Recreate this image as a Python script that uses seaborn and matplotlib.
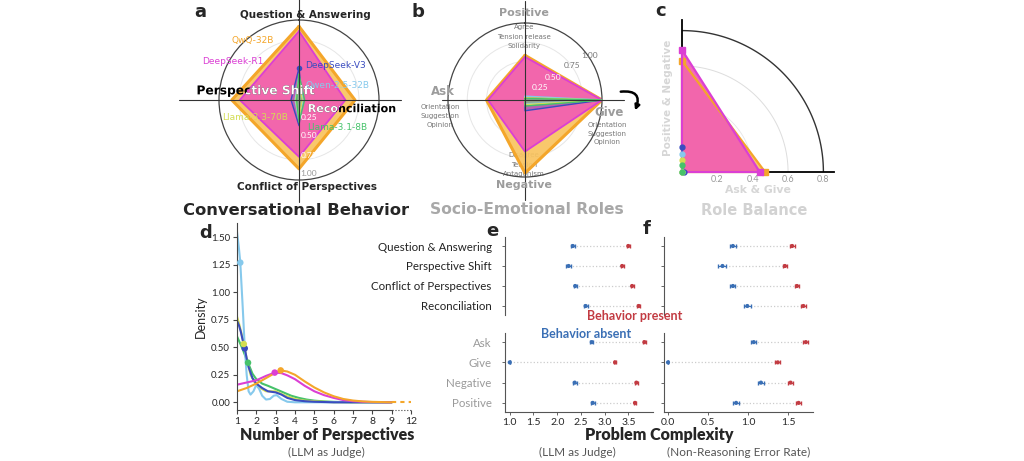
import numpy as np
import pandas as pd
import seaborn as sns
import matplotlib.pyplot as plt
from matplotlib.patches import FancyArrowPatch, PathPatch
from matplotlib.textpath import TextPath
from matplotlib.font_manager import FontProperties
from matplotlib.transforms import Affine2D

W, H = 1024, 461

models = ['QwQ-32B', 'DeepSeek-R1', 'DeepSeek-V3', 'Qwen-2.5-32B', 'Llama-3.3-70B', 'Llama-3.1-8B']
colors = {'QwQ-32B': '#F4A62A', 'DeepSeek-R1': '#DB3FD4', 'DeepSeek-V3': '#3A4CC0',
          'Qwen-2.5-32B': '#86C9EC', 'Llama-3.3-70B': '#D3DD52', 'Llama-3.1-8B': '#46C26A'}
fills = {'QwQ-32B': '#F9C460', 'DeepSeek-R1': '#F25EB2'}

# a: conversational behavior (QA, Perspective Shift, Conflict, Reconciliation)
behav_axes = ['Question & Answering', 'Perspective Shift', 'Conflict of Perspectives', 'Reconciliation']
behav = {'QwQ-32B': [0.92, 0.84, 0.86, 0.70],
         'DeepSeek-R1': [0.86, 0.74, 0.71, 0.58],
         'DeepSeek-V3': [0.40, 0.10, 0.32, 0.04],
         'Qwen-2.5-32B': [0.30, 0.05, 0.26, 0.05],
         'Llama-3.3-70B': [0.28, 0.04, 0.22, 0.04],
         'Llama-3.1-8B': [0.32, 0.03, 0.28, 0.07]}

# b: socio-emotional roles (Positive, Ask, Negative, Give)
role_axes = ['Positive', 'Ask', 'Negative', 'Give']
roles = {'QwQ-32B': [0.58, 0.50, 0.95, 1.0],
         'DeepSeek-R1': [0.56, 0.48, 0.67, 1.0],
         'DeepSeek-V3': [0.03, 0.0, 0.14, 1.0],
         'Qwen-2.5-32B': [0.05, 0.0, 0.05, 1.0],
         'Llama-3.3-70B': [0.03, 0.0, 0.06, 1.0],
         'Llama-3.1-8B': [0.02, 0.0, 0.08, 1.0]}

# c: role balance
bal_askgive = [0.47, 0.44, 0.01, 0.0, 0.0, 0.0]
bal_posneg = [0.63, 0.69, 0.14, 0.10, 0.07, 0.04]

# d: density of number of perspectives
dens = {
    'Qwen-2.5-32B': ([1, 1.1, 1.17, 1.3, 1.4, 1.5, 1.6, 1.7, 1.85, 2.0, 2.15, 2.3, 2.5, 2.7, 2.9, 3.05, 3.3, 3.6, 4, 5, 6, 7, 8, 9],
                     [1.55, 1.4, 1.27, 0.85, 0.5, 0.25, 0.1, 0.07, 0.1, 0.16, 0.12, 0.06, 0.025, 0.03, 0.06, 0.065, 0.03, 0.005, 0, 0, 0, 0, 0, 0]),
    'DeepSeek-V3': ([1, 1.1, 1.2, 1.3, 1.4, 1.5, 1.6, 1.8, 2.0, 2.3, 2.6, 3.0, 3.3, 3.6, 4, 4.5, 5, 6, 7, 8, 9],
                    [0.74, 0.7, 0.64, 0.56, 0.49, 0.4, 0.32, 0.22, 0.17, 0.13, 0.1, 0.09, 0.07, 0.04, 0.02, 0.01, 0.005, 0, 0, 0, 0]),
    'Llama-3.3-70B': ([1, 1.1, 1.2, 1.35, 1.5, 1.7, 2.0, 2.5, 3.0, 3.5, 4, 4.5, 5, 6, 7, 8, 9],
                      [0.78, 0.72, 0.65, 0.53, 0.4, 0.25, 0.15, 0.1, 0.1, 0.06, 0.03, 0.015, 0.01, 0, 0, 0, 0]),
    'Llama-3.1-8B': ([1, 1.1, 1.3, 1.45, 1.57, 1.8, 2.0, 2.3, 2.6, 3.0, 3.4, 3.8, 4.2, 4.6, 5, 5.5, 6, 7, 8, 9],
                     [0.6, 0.56, 0.48, 0.41, 0.36, 0.26, 0.21, 0.17, 0.15, 0.12, 0.09, 0.06, 0.04, 0.025, 0.015, 0.008, 0.004, 0, 0, 0]),
    'DeepSeek-R1': ([1, 1.5, 2.0, 2.5, 2.95, 3.3, 3.6, 4.0, 4.5, 5.0, 5.5, 6, 6.5, 7, 7.5, 8, 9],
                    [0.16, 0.18, 0.2, 0.24, 0.27, 0.265, 0.245, 0.21, 0.15, 0.1, 0.065, 0.04, 0.02, 0.01, 0.005, 0.002, 0]),
    'QwQ-32B': ([1, 1.5, 2.0, 2.5, 3.0, 3.26, 3.6, 4.0, 4.5, 5.0, 5.5, 6, 6.5, 7, 7.5, 8, 9],
                [0.1, 0.13, 0.17, 0.22, 0.27, 0.29, 0.28, 0.25, 0.19, 0.135, 0.09, 0.055, 0.03, 0.016, 0.008, 0.004, 0]),
}
mean_x = [3.26, 2.95, 1.4, 1.17, 1.35, 1.57]
mean_y = [0.29, 0.27, 0.49, 1.27, 0.53, 0.36]
persp_ticks = [1, 2, 3, 4, 5, 6, 7, 8, 9, 10]
persp_labels = ['1', '2', '3', '4', '5', '6', '7', '8', '9', '12']

# e/f: problem complexity with behavior absent / present
rows_top = ['Question & Answering', 'Perspective Shift', 'Conflict of Perspectives', 'Reconciliation']
rows_bot = ['Ask', 'Give', 'Negative', 'Positive']
e_abs_top = [2.33, 2.24, 2.38, 2.60]
e_pre_top = [3.50, 3.37, 3.58, 3.72]
e_abs_bot = [2.73, 1.00, 2.37, 2.75]
e_pre_bot = [3.84, 3.22, 3.67, 3.64]
f_abs_top = [0.81, 0.68, 0.81, 0.99]
f_pre_top = [1.55, 1.46, 1.61, 1.69]
f_abs_bot = [1.07, 0.00, 1.16, 0.85]
f_pre_bot = [1.72, 1.37, 1.53, 1.63]
err_e_abs = [0.04, 0.05, 0.03, 0.04]
err_e_pre = [0.03, 0.03, 0.03, 0.03]
err_e_abs_b = [0.03, 0.0, 0.04, 0.04]
err_e_pre_b = [0.03, 0.03, 0.03, 0.03]
err_f_abs = [0.04, 0.05, 0.03, 0.04]
err_f_pre = [0.03, 0.03, 0.03, 0.03]
err_f_abs_b = [0.03, 0.0, 0.04, 0.04]
err_f_pre_b = [0.03, 0.03, 0.03, 0.03]

blue = '#3A6FB5'
red = '#C23B42'

sns.set_theme(style='white')
plt.rcParams['font.family'] = ['DejaVu Sans']


def box(x0, y0, x1, y1):
    return [x0 / W, 1 - y1 / H, (x1 - x0) / W, (y1 - y0) / H]


def P(x, y):
    return x / W, 1 - y / H


fig = plt.figure(figsize=(10.24, 4.61), dpi=100)


def path_text(ax, s, x, y, fs, color, z, clip=None):
    # label drawn as a path inside the radar axes, so it can be clipped to a filled polygon
    tp = TextPath((0, 0), s, size=fs, prop=FontProperties(family='DejaVu Sans', weight='bold'))
    ext = tp.get_extents()
    k = fig.dpi / 72
    tr = Affine2D().translate(-(ext.x0 + ext.width / 2), -(ext.y0 + ext.height / 2)).scale(k).translate(x, H - y)
    pp = PathPatch(tp, transform=tr, facecolor=color, edgecolor='none', lw=0, zorder=z)
    ax.add_artist(pp)
    if clip is None:
        pp.set_clip_on(False)
    else:
        pp.set_clip_on(True)
        pp.set_clip_path(clip)
    return pp


def radar(ax, data, cross):
    ang = np.arange(4) * np.pi / 2
    angc = np.append(ang, ang[0])
    ax.set_theta_offset(np.pi / 2)
    ax.set_ylim(0, 1)
    ax.set_xticks([])
    ax.set_yticks([0.25, 0.5, 0.75])
    ax.set_yticklabels([])
    ax.yaxis.grid(True, color='#E6E6E6', lw=0.7)
    ax.set_axisbelow(True)
    ax.spines['polar'].set_color('#444')
    ax.spines['polar'].set_linewidth(0.9)
    polys = {}
    for i, m in enumerate(models):
        v = np.append(data[m], data[m][0])
        if m in fills:
            polys[m] = ax.fill(angc, v, color=fills[m], alpha=0.92, zorder=2 + i, lw=0)[0]
            ax.plot(angc, v, color=colors[m], lw=2.2 if i == 0 else 1.3, zorder=2.5 + i)
        else:
            ax.fill(angc, v, color=colors[m], alpha=0.3, zorder=5, lw=0)
            ax.plot(angc, v, color=colors[m], lw=1.0, zorder=5.5)
    for a, L in zip(ang, cross):
        ax.plot([a, a], [0, L], color='#333', lw=0.8, clip_on=False, zorder=7)
    return polys


# ---- a ----
axa = fig.add_axes(box(219, 20, 379, 180), projection='polar')
pa = radar(axa, behav, [1.27, 1.5, 1.27, 1.28])
axa.plot([0], [0.40], 'o', color=colors['DeepSeek-V3'], ms=3, zorder=6)
for lab, (x, y), col in zip(['0.25', '0.50', '0.75', '1.00'],
                            [(309, 117), (309, 136), (309, 155), (309, 173)],
                            ['white', 'white', 'white', '#999999']):
    axa.text(*P(x, y), lab, transform=fig.transFigure, ha='center', va='center',
             fontsize=6, color=col, zorder=8, family='Lato')
fig.text(*P(305, 15), 'Question & Answering', ha='center', va='center', fontsize=7.5, fontweight='bold')
fig.text(*P(307, 187), 'Conflict of Perspectives', ha='center', va='center', fontsize=7.5, fontweight='bold')
for s, (x, y), fs in [('Perspective Shift', (256, 91), 8.8), ('Reconciliation', (352, 108), 8)]:
    path_text(axa, s, x, y, fs, 'black', 7.8)
    path_text(axa, s, x, y, fs, 'white', 8.6, clip=pa['DeepSeek-R1'])
for m, (x, y) in zip(models, [(253, 40), (233, 61), (336, 65), (338, 85), (255, 117), (337, 127)]):
    fig.text(*P(x, y), m, ha='center', va='center', fontsize=6.5, color=colors[m])

# ---- b ----
axb = fig.add_axes(box(448, 23, 602, 177), projection='polar')
radar(axb, roles, [1.28, 1.08, 1.3, 1.28])
for lab, (x, y), col in zip(['0.25', '0.50', '0.75', '1.00'],
                            [(540, 87), (553, 77), (572, 66), (590, 55)],
                            ['white', 'white', '#777777', '#777777']):
    axb.text(*P(x, y), lab, transform=fig.transFigure, ha='center', va='center',
             fontsize=6, color=col, zorder=8, family='Lato')
gray = '#9C9C9C'
fig.text(*P(524, 13), 'Positive', ha='center', va='center', fontsize=8, fontweight='bold', color=gray)
fig.text(*P(443, 91), 'Ask', ha='center', va='center', fontsize=8.5, fontweight='bold', color=gray)
fig.text(*P(609, 113), 'Give', ha='center', va='center', fontsize=8.5, fontweight='bold', color=gray)
fig.text(*P(524, 185), 'Negative', ha='center', va='center', fontsize=8, fontweight='bold', color=gray)
subs = [(['Agree', 'Tension release', 'Solidarity'], 524, [27, 37, 46]),
        (['Orientation', 'Suggestion', 'Opinion'], 440, [107, 116, 125]),
        (['Orientation', 'Suggestion', 'Opinion'], 607, [125, 134, 142]),
        (['Disagree', 'Tension', 'Antagonism'], 524, [155, 165, 174])]
for words, x, ys in subs:
    for w_, y in zip(words, ys):
        axb.text(*P(x, y), w_, transform=fig.transFigure, ha='center', va='center',
                 fontsize=5, color='#777777', zorder=1, clip_on=False)

# curly arrow between b and c
fig.add_artist(FancyArrowPatch(P(618, 92), P(634, 113), connectionstyle='arc3,rad=-0.9',
                               arrowstyle='-|>', mutation_scale=7, lw=1.8, color='black',
                               transform=fig.transFigure))

# ---- c ----
axc = fig.add_axes(box(682, 20, 834, 172))
th = np.linspace(0, np.pi / 2, 120)
for r, col, lw in [(0.2, '#EDEDED', 0.6), (0.4, '#E6E6E6', 0.6), (0.6, '#DDDDDD', 0.7), (0.8, '#333333', 1.0)]:
    axc.plot(r * np.cos(th), r * np.sin(th), color=col, lw=lw, zorder=0.5)
for i, m in enumerate(models):
    xs = [0, bal_askgive[i], 0, 0]
    ys = [0, 0, bal_posneg[i], 0]
    if m in fills:
        axc.fill(xs, ys, color=fills[m], alpha=0.92, lw=0, zorder=1 + i)
        axc.plot(xs, ys, color=colors[m], lw=1.6, zorder=3 + i, clip_on=False)
        axc.plot([0, bal_askgive[i]], [bal_posneg[i], 0], 's', color=colors[m], ms=4, zorder=4 + i, clip_on=False)
    else:
        axc.plot(xs, ys, color=colors[m], lw=1.0, zorder=6, clip_on=False)
        axc.plot([0, bal_askgive[i]], [bal_posneg[i], 0], 'o', color=colors[m], ms=3.5, zorder=7, clip_on=False)
axc.set_xlim(0, 0.86)
axc.set_ylim(0, 0.86)
axc.set_xticks([0.2, 0.4, 0.6, 0.8])
axc.set_xticklabels(['0.2', '0.4', '0.6', '0.8'], fontsize=6.5, color='#999999', family='Lato')
axc.set_yticks([])
axc.tick_params(length=0, pad=2)
sns.despine(ax=axc)
for s in ['left', 'bottom']:
    axc.spines[s].set_color('black')
    axc.spines[s].set_linewidth(1.3)
fig.text(*P(758, 190), 'Ask & Give', ha='center', va='center', fontsize=7.8, fontweight='bold', color='#D6D6D6')
fig.text(*P(668, 98), 'Positive & Negative', ha='center', va='center', fontsize=7.5, fontweight='bold',
         color='#D6D6D6', rotation=90)

# ---- titles row 1 ----
fig.text(*P(296, 210), 'Conversational Behavior', ha='center', va='center', fontsize=11.8, fontweight='heavy')
fig.text(*P(527, 209), 'Socio-Emotional Roles', ha='center', va='center', fontsize=11.2, fontweight='heavy', color='#A8A8A8')
fig.text(*P(754, 210), 'Role Balance', ha='center', va='center', fontsize=10.5, fontweight='heavy', color='#D2D2D2')

# ---- d ----
axd = fig.add_axes(box(237, 223, 413, 410))
rows = []
for m in models:
    for x, y in zip(*dens[m]):
        rows.append({'model': m, 'x': x, 'density': y})
df = pd.DataFrame(rows)
sns.lineplot(data=df, x='x', y='density', hue='model', hue_order=models[::-1],
             palette=colors, lw=1.5, legend=False, ax=axd)
sns.scatterplot(x=mean_x, y=mean_y, hue=models, palette=colors, s=22, legend=False,
                edgecolor='none', ax=axd, zorder=5)
axd.plot([9, 10], [0, 0], color=colors['QwQ-32B'], lw=1.5, ls=(0, (2, 2)))
axd.set_xlim(1, 10.1)
axd.set_ylim(-0.07, 1.63)
axd.set_xticks(persp_ticks)
axd.set_xticklabels(persp_labels, fontsize=7.5, family='Lato')
axd.set_yticks([0, 0.25, 0.5, 0.75, 1.0, 1.25, 1.5])
axd.set_yticklabels(['0.00', '0.25', '0.50', '0.75', '1.00', '1.25', '1.50'], fontsize=7, family='Lato')
axd.tick_params(length=3, width=0.8, color='#444', pad=2, left=True, bottom=True)
sns.despine(ax=axd)
axd.spines['bottom'].set_bounds(1, 9)
axd.plot([9, 10], [-0.07, -0.07], color='#444', lw=0.8, ls=':', clip_on=False)
for s in ['left', 'bottom']:
    axd.spines[s].set_color('#444')
    axd.spines[s].set_linewidth(0.8)
axd.set_xlabel('')
axd.set_ylabel('Density', fontsize=9, family='Lato', labelpad=3)
fig.text(*P(327, 435), 'Number of Perspectives', ha='center', va='center', fontsize=11.5,
         fontweight='heavy', family='Lato')
fig.text(*P(326, 452), '(LLM as Judge)', ha='center', va='center', fontsize=8.5, color='#555555', family='Lato')


# ---- e / f ----
def dumbbell(ax, rows_, absent, present, ea, ep, xlim, labcol, labels, bottom):
    y = np.arange(len(rows_))
    ax.hlines(y, absent, present, colors='#CCCCCC', linestyles=':', lw=0.9, zorder=1)
    ax.errorbar(absent, y, xerr=ea, fmt='none', ecolor=blue, elinewidth=0.8, capsize=1.5, zorder=2)
    ax.errorbar(present, y, xerr=ep, fmt='none', ecolor=red, elinewidth=0.8, capsize=1.5, zorder=2)
    sns.scatterplot(x=absent, y=y, color=blue, s=9, edgecolor='none', ax=ax, zorder=3)
    sns.scatterplot(x=present, y=y, color=red, s=9, edgecolor='none', ax=ax, zorder=3)
    ax.set_ylim(3.45, -0.45)
    ax.set_xlim(*xlim)
    ax.set_yticks(y)
    if labels:
        ax.set_yticklabels(rows_, fontsize=8.3, color=labcol, family='Lato')
    else:
        ax.set_yticklabels([])
    ax.tick_params(axis='y', length=2.5, width=0.7, color='#666', pad=7, left=True)
    sns.despine(ax=ax, bottom=not bottom)
    ax.spines['left'].set_color('#555')
    ax.spines['left'].set_linewidth(0.8)
    if bottom:
        ax.spines['bottom'].set_color('#555')
        ax.spines['bottom'].set_linewidth(0.8)
        ax.tick_params(axis='x', length=2.5, width=0.7, color='#666', pad=2, labelsize=7.5, bottom=True)
    else:
        ax.set_xticks([])


ex = (0.9, 4.02)
fx = (-0.05, 1.81)
ax_et = fig.add_axes(box(505, 237, 653, 315))
dumbbell(ax_et, rows_top, e_abs_top, e_pre_top, err_e_abs, err_e_pre, ex, '#222222', True, False)
ax_eb = fig.add_axes(box(505, 333, 653, 412))
dumbbell(ax_eb, rows_bot, e_abs_bot, e_pre_bot, err_e_abs_b, err_e_pre_b, ex, '#9A9A9A', True, True)
ax_eb.set_xticks([1.0, 1.5, 2.0, 2.5, 3.0, 3.5])
ax_eb.set_xticklabels(['1.0', '1.5', '2.0', '2.5', '3.0', '3.5'], family='Lato')
ax_ft = fig.add_axes(box(664, 237, 813, 315))
dumbbell(ax_ft, rows_top, f_abs_top, f_pre_top, err_f_abs, err_f_pre, fx, '#222222', False, False)
ax_fb = fig.add_axes(box(664, 333, 813, 412))
dumbbell(ax_fb, rows_bot, f_abs_bot, f_pre_bot, err_f_abs_b, err_f_pre_b, fx, '#9A9A9A', False, True)
ax_fb.set_xticks([0.0, 0.5, 1.0, 1.5])
ax_fb.set_xticklabels(['0.0', '0.5', '1.0', '1.5'], family='Lato')

fig.text(*P(635, 316), 'Behavior present', ha='center', va='center', fontsize=9, color=red,
         family='Lato', fontweight='bold')
fig.text(*P(586, 334), 'Behavior absent', ha='center', va='center', fontsize=9, color=blue,
         family='Lato', fontweight='bold')
fig.text(*P(659, 435), 'Problem Complexity', ha='center', va='center', fontsize=11.5,
         fontweight='heavy', family='Lato')
fig.text(*P(577, 452), '(LLM as Judge)', ha='center', va='center', fontsize=8.5, color='#555555', family='Lato')
fig.text(*P(739, 452), '(Non-Reasoning Error Rate)', ha='center', va='center', fontsize=8.5,
         color='#555555', family='Lato')

# panel letters
for s, (x, y) in zip('abcdef', [(200, 12), (418, 12), (661, 11), (206, 233), (492, 231), (647, 229)]):
    fig.text(*P(x, y), s, ha='center', va='center', fontsize=13, fontweight='bold')

fig.savefig('out.png', dpi=100)
